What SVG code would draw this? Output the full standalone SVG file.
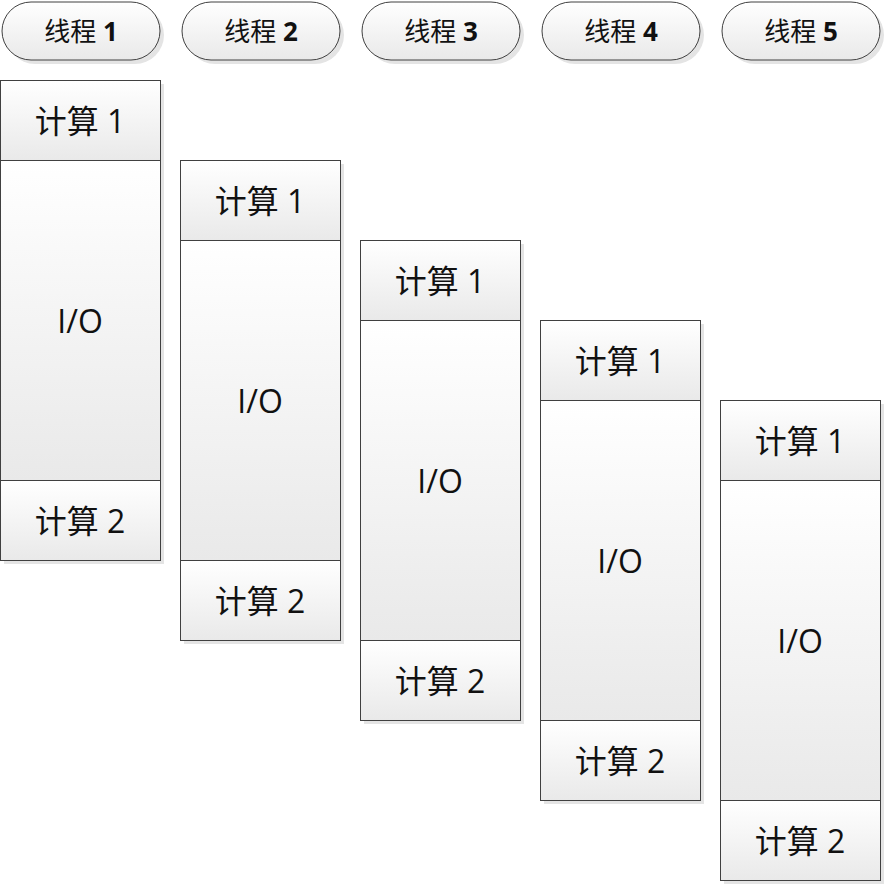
<svg xmlns="http://www.w3.org/2000/svg" width="886" height="886" viewBox="0 0 886 886">
<defs>
<linearGradient id="g" x1="0" y1="0" x2="0" y2="1">
<stop offset="0" stop-color="#ffffff"/>
<stop offset="1" stop-color="#e9e9e9"/>
</linearGradient>
<style>
.box{fill:url(#g);stroke:#404040;stroke-width:1}
.sh{fill:#e4e4e4}
.t{font-family:"Open Sans","Noto Sans CJK SC",sans-serif;font-size:32px;fill:#111;text-anchor:middle;dominant-baseline:central}
.h{font-family:"Open Sans","Noto Sans CJK SC",sans-serif;font-size:26px;fill:#111;text-anchor:middle;dominant-baseline:central}
.b{font-weight:bold}
</style>
</defs>
<rect width="886" height="886" fill="#fff"/>
<g id="thread1">
<rect class="sh" x="6" y="6" width="158" height="58" rx="29"/>
<rect class="box" x="2" y="2" width="158" height="58" rx="29"/>
<text class="h" x="81" y="31">线程 <tspan class="b">1</tspan></text>
<rect class="sh" x="4" y="84" width="160" height="480"/>
<rect class="box" x="0.5" y="80.5" width="160" height="80"/>
<text class="t" x="80" y="120">计算 1</text>
<rect class="box" x="0.5" y="160.5" width="160" height="320"/>
<text class="t" x="80" y="320">I/O</text>
<rect class="box" x="0.5" y="480.5" width="160" height="80"/>
<text class="t" x="80" y="520">计算 2</text>
</g>
<g id="thread2">
<rect class="sh" x="186" y="6" width="158" height="58" rx="29"/>
<rect class="box" x="182" y="2" width="158" height="58" rx="29"/>
<text class="h" x="261" y="31">线程 <tspan class="b">2</tspan></text>
<rect class="sh" x="184" y="164" width="160" height="480"/>
<rect class="box" x="180.5" y="160.5" width="160" height="80"/>
<text class="t" x="260" y="200">计算 1</text>
<rect class="box" x="180.5" y="240.5" width="160" height="320"/>
<text class="t" x="260" y="400">I/O</text>
<rect class="box" x="180.5" y="560.5" width="160" height="80"/>
<text class="t" x="260" y="600">计算 2</text>
</g>
<g id="thread3">
<rect class="sh" x="366" y="6" width="158" height="58" rx="29"/>
<rect class="box" x="362" y="2" width="158" height="58" rx="29"/>
<text class="h" x="441" y="31">线程 <tspan class="b">3</tspan></text>
<rect class="sh" x="364" y="244" width="160" height="480"/>
<rect class="box" x="360.5" y="240.5" width="160" height="80"/>
<text class="t" x="440" y="280">计算 1</text>
<rect class="box" x="360.5" y="320.5" width="160" height="320"/>
<text class="t" x="440" y="480">I/O</text>
<rect class="box" x="360.5" y="640.5" width="160" height="80"/>
<text class="t" x="440" y="680">计算 2</text>
</g>
<g id="thread4">
<rect class="sh" x="546" y="6" width="158" height="58" rx="29"/>
<rect class="box" x="542" y="2" width="158" height="58" rx="29"/>
<text class="h" x="621" y="31">线程 <tspan class="b">4</tspan></text>
<rect class="sh" x="544" y="324" width="160" height="480"/>
<rect class="box" x="540.5" y="320.5" width="160" height="80"/>
<text class="t" x="620" y="360">计算 1</text>
<rect class="box" x="540.5" y="400.5" width="160" height="320"/>
<text class="t" x="620" y="560">I/O</text>
<rect class="box" x="540.5" y="720.5" width="160" height="80"/>
<text class="t" x="620" y="760">计算 2</text>
</g>
<g id="thread5">
<rect class="sh" x="726" y="6" width="158" height="58" rx="29"/>
<rect class="box" x="722" y="2" width="158" height="58" rx="29"/>
<text class="h" x="801" y="31">线程 <tspan class="b">5</tspan></text>
<rect class="sh" x="724" y="404" width="160" height="480"/>
<rect class="box" x="720.5" y="400.5" width="160" height="80"/>
<text class="t" x="800" y="440">计算 1</text>
<rect class="box" x="720.5" y="480.5" width="160" height="320"/>
<text class="t" x="800" y="640">I/O</text>
<rect class="box" x="720.5" y="800.5" width="160" height="80"/>
<text class="t" x="800" y="840">计算 2</text>
</g>
<g id="connectors"/>
</svg>
